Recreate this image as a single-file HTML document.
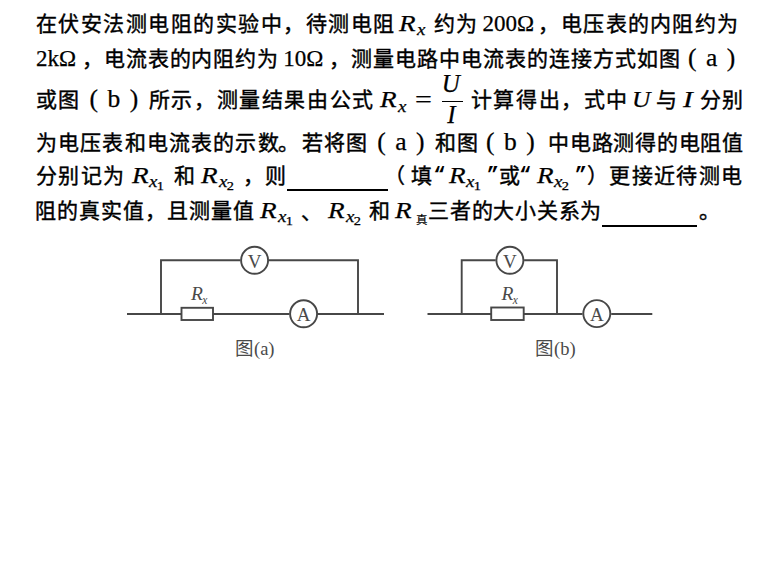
<!DOCTYPE html><html lang="zh-CN"><head><meta charset="utf-8"><style>
html,body{margin:0;padding:0;background:#fff;}
body{width:779px;height:584px;position:relative;overflow:hidden;font-family:"Liberation Serif",serif;color:#000;}
.ln{position:absolute;left:0;white-space:nowrap;font-size:22px;line-height:30px;height:30px;}
.ln>span{display:inline-block;vertical-align:baseline;white-space:nowrap;}
.c{font-size:21px;font-weight:400;-webkit-text-stroke:0.4px #000;}
.c b{display:inline-block;width:22.45px;font-weight:400;}
.c .qr{vertical-align:2px;text-align:right;font-size:20px;font-family:"Liberation Mono",monospace;font-weight:bold;-webkit-text-stroke:0;}
.c .ql{vertical-align:2px;font-size:20px;font-family:"Liberation Mono",monospace;font-weight:bold;-webkit-text-stroke:0;}
.m,.p,.f,.u{font-size:23px;-webkit-text-stroke:0.25px #000;}
.p{font-size:25.5px;}
i{font-style:italic;}
.R{display:inline-block;transform:scaleX(1.18);transform-origin:0 0;margin-right:2.5px;}
.sb{font-size:16.5px;position:relative;top:4.5px;margin-left:1px;display:inline-block;transform:scaleX(1.15);transform-origin:0 0;}
.sb .ss{font-size:12.5px;position:relative;top:2.5px;font-style:normal;margin-left:-0.5px;}
.sp{display:inline-block;width:9.5px;}
.zh{font-size:11.5px;font-weight:400;-webkit-text-stroke:0.2px #000;position:relative;top:6.5px;margin-left:4px;}
.ul{display:inline-block;height:2px;background:#000;vertical-align:-9px;}
.frac{display:inline-block;position:relative;width:21px;height:10px;}
.frac i{position:absolute;font-size:25px;line-height:30px;}
.frac .num{left:0px;top:-28.6px;}
.frac .den{left:5.5px;top:2.4px;}
.frac .bar{position:absolute;left:0;top:3.3px;width:21.2px;height:1.6px;background:#000;}
.sx{display:inline-block;font-size:24px;transform:scaleX(1.06);transform-origin:0 0;}
.sx2{display:inline-block;font-size:24px;transform:scaleX(1.22);transform-origin:0 0;}
.eq{display:inline-block;transform:scaleX(1.3);transform-origin:0 0;}
</style></head><body><div class="ln" style="top:8.70px;padding-left:35.50px"><span class="c" style="width:363.70px"><b style="width:22.53px">在</b><b style="width:22.53px">伏</b><b style="width:22.53px">安</b><b style="width:22.53px">法</b><b style="width:22.53px">测</b><b style="width:22.53px">电</b><b style="width:22.53px">阻</b><b style="width:22.53px">的</b><b style="width:22.53px">实</b><b style="width:22.53px">验</b><b style="width:22.53px">中</b><b style="width:22.53px">，</b><b style="width:22.53px">待</b><b style="width:22.53px">测</b><b style="width:22.53px">电</b><b style="width:22.53px">阻</b></span><span class="m" style="width:34.55px"><i class="R">R</i><i class="sb">x</i></span><span class="c" style="width:48.85px"><b>约</b><b>为</b></span><span class="m" style="width:56.20px">200Ω</span><span class="c" style="width:201.20px"><b style="position:relative;left:-0.7px;top:0.0px;width:22.28px">，</b><b style="width:22.28px">电</b><b style="width:22.28px">压</b><b style="width:22.28px">表</b><b style="width:22.28px">的</b><b style="width:22.28px">内</b><b style="width:22.28px">阻</b><b style="width:22.28px">约</b><b style="width:22.28px">为</b></span></div><div class="ln" style="top:43.15px;padding-left:35.90px"><span class="m" style="width:46.10px">2kΩ</span><span class="c" style="width:201.30px"><b style="width:21.90px">，</b><b style="width:21.90px">电</b><b style="width:21.90px">流</b><b style="width:21.90px">表</b><b style="width:21.90px">的</b><b style="width:21.90px">内</b><b style="width:21.90px">阻</b><b style="width:21.90px">约</b><b style="width:21.90px">为</b></span><span class="m" style="width:45.55px">10Ω</span><span class="c" style="width:359.15px"><b style="position:relative;left:0.0px;top:0.0px;width:21.99px">，</b><b style="width:21.99px">测</b><b style="width:21.99px">量</b><b style="width:21.99px">电</b><b style="width:21.99px">路</b><b style="width:21.99px">中</b><b style="width:21.99px">电</b><b style="width:21.99px">流</b><b style="width:21.99px">表</b><b style="width:21.99px">的</b><b style="width:21.99px">连</b><b style="width:21.99px">接</b><b style="width:21.99px">方</b><b style="width:21.99px">式</b><b style="width:21.99px">如</b><b style="width:21.99px">图</b></span><span class="p" style="width:57.00px">(<span class="sp"></span>a<span class="sp"></span>)</span></div><div class="ln" style="top:84.40px;padding-left:35.90px"><span class="c" style="width:53.70px"><b>或</b><b>图</b></span><span class="p" style="width:59.30px">(<span class="sp"></span>b<span class="sp"></span>)</span><span class="c" style="width:231.45px"><b style="width:22.59px">所</b><b style="width:22.59px">示</b><b style="width:22.59px">，</b><b style="width:22.59px">测</b><b style="width:22.59px">量</b><b style="width:22.59px">结</b><b style="width:22.59px">果</b><b style="width:22.59px">由</b><b style="width:22.59px">公</b><b style="width:22.59px">式</b></span><span class="m" style="width:34.55px"><i class="R">R</i><i class="sb">x</i></span><span class="m" style="width:26.95px"><span class="eq">=</span></span><span class="f" style="width:28.90px"><span class="frac"><i class="num">U</i><span class="bar"></span><i class="den">I</i></span></span><span class="c" style="width:161.20px"><b style="width:22.64px">计</b><b style="width:22.64px">算</b><b style="width:22.64px">得</b><b style="width:22.64px">出</b><b style="width:22.64px">，</b><b style="width:22.64px">式</b><b style="width:22.64px">中</b></span><span class="m" style="width:23.95px"><i class="sx">U</i></span><span class="c" style="width:26.75px"><b>与</b></span><span class="m" style="width:17.25px"><i class="sx2">I</i></span><span class="c" style="width:45.10px"><b>分</b><b>别</b></span></div><div class="ln" style="top:126.70px;padding-left:35.90px"><span class="c" style="width:341.40px"><b style="width:22.18px">为</b><b style="width:22.18px">电</b><b style="width:22.18px">压</b><b style="width:22.18px">表</b><b style="width:22.18px">和</b><b style="width:22.18px">电</b><b style="width:22.18px">流</b><b style="width:22.18px">表</b><b style="width:22.18px">的</b><b style="width:22.18px">示</b><b style="width:22.18px">数</b><b style="position:relative;left:-1.5px;top:0.0px;width:22.18px">。</b><b style="width:22.18px">若</b><b style="width:22.18px">将</b><b style="width:22.18px">图</b></span><span class="p" style="width:57.50px">(<span class="sp"></span>a<span class="sp"></span>)</span><span class="c" style="width:51.20px"><b>和</b><b>图</b></span><span class="p" style="width:62.00px">(<span class="sp"></span>b<span class="sp"></span>)</span><span class="c" style="width:197.00px"><b style="width:21.79px">中</b><b style="width:21.79px">电</b><b style="width:21.79px">路</b><b style="width:21.79px">测</b><b style="width:21.79px">得</b><b style="width:21.79px">的</b><b style="width:21.79px">电</b><b style="width:21.79px">阻</b><b style="width:21.79px">值</b></span></div><div class="ln" style="top:160.70px;padding-left:35.90px"><span class="c" style="width:96.00px"><b>分</b><b>别</b><b>记</b><b>为</b></span><span class="m" style="width:41.85px"><i class="R">R</i><i class="sb">x<span class="ss">1</span></i></span><span class="c" style="width:27.75px"><b>和</b></span><span class="m" style="width:41.10px"><i class="R">R</i><i class="sb">x<span class="ss">2</span></i></span><span class="c" style="width:44.14px"><b style="position:relative;left:0.0px;top:0.0px;width:22.45px">，</b><b>则</b></span><span class="u" style="width:102.01px"><span class="ul" style="width:101.6px;vertical-align:-8px"></span></span><span class="c" style="width:60.00px"><b style="position:relative;left:-5.0px;top:0.0px;width:22.45px">（</b><b>填</b><b class="ql">“</b></span><span class="m" style="width:27.70px"><i class="R">R</i><i class="sb">x<span class="ss">1</span></i></span><span class="c" style="width:60.35px"><b class="qr">”</b><b>或</b><b class="ql" style="position:relative;left:-2.0px;top:0.0px;width:22.45px">“</b></span><span class="m" style="width:27.55px"><i class="R">R</i><i class="sb">x<span class="ss">2</span></i></span><span class="c" style="width:180.65px"><b class="qr">”</b><b>）</b><b>更</b><b>接</b><b>近</b><b>待</b><b>测</b><b>电</b></span></div><div class="ln" style="top:195.70px;padding-left:34.90px"><span class="c" style="width:225.20px"><b style="width:22.06px">阻</b><b style="width:22.06px">的</b><b style="width:22.06px">真</b><b style="width:22.06px">实</b><b style="width:22.06px">值</b><b style="width:22.06px">，</b><b style="width:22.06px">且</b><b style="width:22.06px">测</b><b style="width:22.06px">量</b><b style="width:22.06px">值</b></span><span class="m" style="width:40.90px"><i class="R">R</i><i class="sb">x<span class="ss">1</span></i></span><span class="c" style="width:27.35px"><b style="position:relative;left:0.0px;top:1.5px;width:22.45px">、</b></span><span class="m" style="width:40.90px"><i class="R">R</i><i class="sb">x<span class="ss">2</span></i></span><span class="c" style="width:26.25px"><b>和</b></span><span class="m" style="width:32.65px"><i class="R">R</i><span class="zh">真</span></span><span class="c" style="width:174.18px"><b style="width:21.77px">三</b><b style="width:21.77px">者</b><b style="width:21.77px">的</b><b style="width:21.77px">大</b><b style="width:21.77px">小</b><b style="width:21.77px">关</b><b style="width:21.77px">系</b><b style="width:21.77px">为</b></span><span class="u" style="width:96.67px"><span class="ul" style="width:95px"></span></span><span class="c" style="width:46.00px"><b>。</b></span></div><svg width="779" height="584" style="position:absolute;left:0;top:0">
<g stroke="#474747" stroke-width="1.9" fill="none">
<!-- (a) -->
<path d="M127 314H181M213 314H289.5M318 314H384M161 314V260.3H240.5M269 260.3H358V314"/>
<rect x="181.5" y="307.8" width="31.5" height="12.2"/>
<circle cx="254.6" cy="260.3" r="13.5"/>
<circle cx="303.6" cy="313.8" r="13.5"/>
<!-- (b) -->
<path d="M427.5 314H491.2M523.7 314H582.5M611.2 314H652.3M461.7 314V260.3H495.7M524.1 260.3H557V314"/>
<rect x="491.2" y="307.5" width="32.5" height="12.5"/>
<circle cx="509.9" cy="260.3" r="13.5"/>
<circle cx="596.8" cy="313.6" r="13.5"/>
</g>
<g fill="#4a4a4a" font-family="Liberation Serif" font-size="19">
<text x="254.6" y="267.5" text-anchor="middle">V</text>
<text x="303.6" y="321" text-anchor="middle">A</text>
<text x="509.9" y="267.5" text-anchor="middle">V</text>
<text x="596.8" y="321" text-anchor="middle">A</text>
<text x="191" y="299.6" font-style="italic" font-size="19.5">R</text>
<text x="202.2" y="303.6" font-style="italic" font-size="11.5">x</text>
<text x="501.5" y="299.6" font-style="italic" font-size="19.5">R</text>
<text x="512.7" y="303.6" font-style="italic" font-size="11.5">x</text>
<text x="235" y="354.5" font-size="18.5">图(a)</text>
<text x="535" y="354.5" font-size="18.5">图(b)</text>
</g>
</svg>
</body></html>
